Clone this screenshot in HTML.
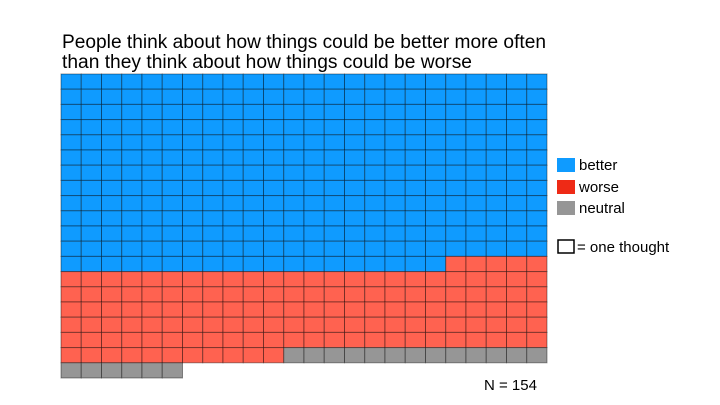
<!DOCTYPE html>
<html><head><meta charset="utf-8"><style>
html,body{margin:0;padding:0;background:#fff;width:720px;height:405px;overflow:hidden}
svg{display:block;font-family:"Liberation Sans",Arial,sans-serif}
</style></head><body>
<svg id="s" width="720" height="405" xmlns="http://www.w3.org/2000/svg">
<text x="62" y="48" font-size="19" fill="#000" textLength="484" lengthAdjust="spacingAndGlyphs">People think about how things could be better more often</text>
<text x="62" y="68" font-size="19" fill="#000" textLength="410" lengthAdjust="spacingAndGlyphs">than they think about how things could be worse</text>
<g id="g"></g>
<rect x="557" y="158" width="18" height="14" fill="#0f9bff"/>
<text x="579" y="170" font-size="15">better</text>
<rect x="557" y="180" width="18" height="14" fill="#ee2a16"/>
<text x="579" y="192" font-size="15">worse</text>
<rect x="557" y="201" width="18" height="14" fill="#969696"/>
<text x="579" y="213" font-size="15">neutral</text>
<rect x="558" y="240" width="16" height="13" fill="none" stroke="#000" stroke-width="1.5"/>
<text x="577" y="252" font-size="15">= one thought</text>
<text x="484" y="390" font-size="15">N = 154</text>
</svg>
<script>
var g=document.getElementById('g'),h='';
var x0=61,y0=74,w=20.25,hh=15.2;
for(var r=0;r<20;r++)for(var c=0;c<24;c++){
 var col=null;
 var blueRows=c>=19?12:13;
 if(r<blueRows)col='#0f9bff';
 else if(r<18)col='#ff6250';
 else if(r==18)col=c<11?'#ff6250':'#969696';
 else if(r==19&&c<6)col='#969696';
 if(!col)continue;
 h+='<rect x="'+(x0+c*w)+'" y="'+(y0+r*hh)+'" width="'+w+'" height="'+hh+'" fill="'+col+'" stroke="rgba(0,0,0,0.4)" stroke-width="1"/>';
}
g.innerHTML=h;
</script>
</body></html>
